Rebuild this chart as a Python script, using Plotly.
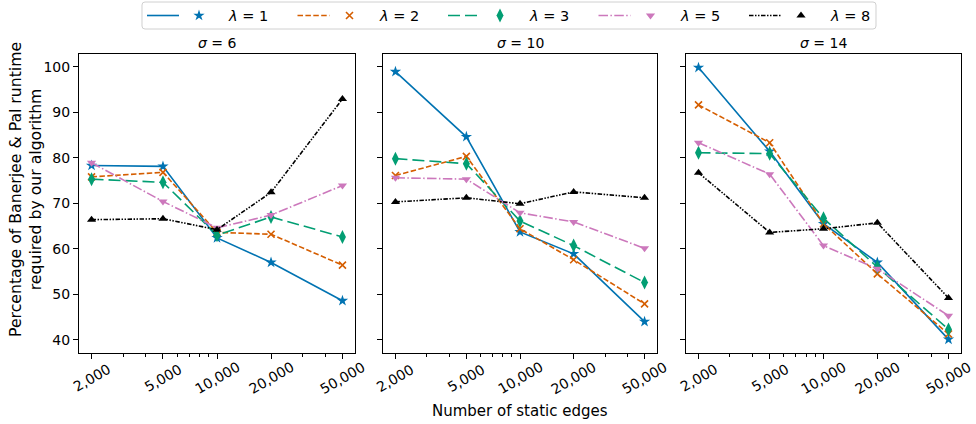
import numpy as np
import plotly.graph_objects as go

# ---- data -------------------------------------------------------------
edges = [2000, 5000, 10000, 20000, 50000]
edge_labels = ["2,000", "5,000", "10,000", "20,000", "50,000"]
minor_edges = [3000, 4000, 6000, 7000, 8000, 9000, 30000, 40000]
y_ticks = [40, 50, 60, 70, 80, 90, 100]

sigmas = [6, 10, 14]
lambdas = [1, 2, 3, 5, 8]

# sigma = 6
s6_l1 = [78.3, 78.1, 62.4, 57.0, 48.6]
s6_l2 = [75.8, 76.8, 63.6, 63.2, 56.4]
s6_l3 = [75.3, 74.6, 63.0, 67.0, 62.6]
s6_l5 = [78.9, 70.4, 64.6, 67.4, 73.9]
s6_l8 = [66.4, 66.6, 64.2, 72.4, 92.9]

# sigma = 10
s10_l1 = [98.9, 84.6, 63.7, 58.9, 44.0]
s10_l2 = [76.1, 80.3, 64.4, 57.6, 47.9]
s10_l3 = [79.8, 78.7, 66.1, 60.7, 52.6]
s10_l5 = [75.6, 75.3, 67.9, 65.9, 60.1]
s10_l8 = [70.3, 71.2, 69.9, 72.5, 71.2]

# sigma = 14
s14_l1 = [99.8, 81.4, 65.5, 57.0, 40.1]
s14_l2 = [91.6, 83.3, 65.5, 54.5, 41.3]
s14_l3 = [81.1, 80.9, 66.7, 56.0, 42.3]
s14_l5 = [83.3, 76.4, 60.7, 55.6, 45.3]
s14_l8 = [76.7, 63.6, 64.4, 65.7, 49.2]

panels = [
    [s6_l1, s6_l2, s6_l3, s6_l5, s6_l8],
    [s10_l1, s10_l2, s10_l3, s10_l5, s10_l8],
    [s14_l1, s14_l2, s14_l3, s14_l5, s14_l8],
]

# ---- styles -----------------------------------------------------------
colors = ["#0173b2", "#d55e00", "#029e73", "#cc78bc", "#000000"]
symbols = ["star", "x-thin", "diamond-tall", "triangle-down", "triangle-up"]
msizes = [8.5, 7, 10, 8, 8]
dashes = [
    "solid",
    "5.5px,2.4px",
    "12px,5px",
    "9.5px,2.4px,1.5px,2.4px",
    "4.5px,1.5px,1.5px,1.5px,1.5px,1.5px",
]
LW = 1.6
FONT = "DejaVu Sans"
EQ = "\u00a0=\u00a0"

W, H = 976, 424


def fx(px):
    return px / W


def fy(py):
    return 1 - py / H


panel_px = [(79, 355), (383, 657), (686, 961)]
top_px, bottom_px = 54, 353


def marker_style(i):
    m = dict(symbol=symbols[i], size=msizes[i], color=colors[i])
    if symbols[i].endswith("-thin"):
        m["line"] = dict(color=colors[i], width=1.6)
    else:
        m["line"] = dict(width=0)
    return m


fig = go.Figure()

# ---- series -----------------------------------------------------------
for p, series in enumerate(panels):
    ax = "" if p == 0 else str(p + 1)
    for i, vals in enumerate(series):
        fig.add_trace(go.Scatter(
            x=edges, y=vals, mode="lines+markers",
            line=dict(color=colors[i], width=LW, dash=dashes[i]),
            marker=marker_style(i),
            xaxis="x" + ax, yaxis="y" + ax,
            showlegend=False, hoverinfo="skip",
        ))

# ---- axes -------------------------------------------------------------
all_vals = np.concatenate([np.array(s) for ser in panels for s in ser])
ymin, ymax = all_vals.min(), all_vals.max()
ypad = 0.05 * (ymax - ymin)
yrange = [ymin - ypad, ymax + ypad]

lx0, lx1 = np.log10(edges[0]), np.log10(edges[-1])
xpad = 0.05 * (lx1 - lx0)
xrange = [lx0 - xpad, lx1 + xpad]

layout = dict(
    width=W, height=H,
    margin=dict(l=0, r=0, t=0, b=0),
    paper_bgcolor="white", plot_bgcolor="white",
    font=dict(family=FONT, size=14, color="black"),
    template="none",
    showlegend=False,
)

for p in range(3):
    ax = "" if p == 0 else str(p + 1)
    x0, x1 = panel_px[p]
    layout["xaxis" + ax] = dict(
        type="log", range=xrange, domain=[fx(x0), fx(x1)],
        anchor="y" + ax,
        tickvals=edges, ticks="outside", ticklen=5, tickwidth=1,
        tickcolor="black", showticklabels=False,
        minor=dict(tickvals=minor_edges, ticks="outside", ticklen=3,
                   tickwidth=0.8, tickcolor="black", showgrid=False),
        showline=True, linecolor="black", linewidth=1, mirror=True,
        showgrid=False, zeroline=False, fixedrange=True,
    )
    layout["yaxis" + ax] = dict(
        range=yrange, domain=[fy(bottom_px), fy(top_px)],
        anchor="x" + ax,
        tickvals=y_ticks, ticks="outside", ticklen=5, tickwidth=1,
        tickcolor="black", showticklabels=(p == 0),
        tickfont=dict(family=FONT, size=14, color="black"),
        showline=True, linecolor="black", linewidth=1, mirror=True,
        showgrid=False, zeroline=False, fixedrange=True,
    )

annotations = []

# rotated x tick labels, centred on their ticks
for p in range(3):
    ax = "" if p == 0 else str(p + 1)
    for v, lab in zip(edges, edge_labels):
        annotations.append(dict(
            x=np.log10(v), xref="x" + ax, y=fy(378), yref="paper",
            text=lab, textangle=-30, showarrow=False,
            xanchor="center", yanchor="middle",
            font=dict(family=FONT, size=14, color="black"),
        ))

# panel titles
for p, s in enumerate(sigmas):
    x0, x1 = panel_px[p]
    annotations.append(dict(
        x=fx((x0 + x1) / 2), xref="paper", y=fy(42.5), yref="paper",
        text="<i>σ</i>" + EQ + str(s), showarrow=False,
        xanchor="center", yanchor="middle",
        font=dict(family=FONT, size=14, color="black"),
    ))

# axis titles
annotations.append(dict(
    x=fx(520), xref="paper", y=fy(410.5), yref="paper",
    text="Number of static edges", showarrow=False,
    xanchor="center", yanchor="middle",
    font=dict(family=FONT, size=15, color="black"),
))
annotations.append(dict(
    x=fx(25), xref="paper", y=fy(190), yref="paper",
    text="Percentage of Banerjee & Pal runtime<br>required by our algorithm",
    textangle=-90, showarrow=False, align="center",
    xanchor="center", yanchor="middle",
    font=dict(family=FONT, size=15.7, color="black"),
))

# ---- legend (drawn on a hidden helper axis) ----------------------------
leg_x0, leg_x1, leg_y0, leg_y1 = 142, 876, 2, 29
layout["xaxis4"] = dict(domain=[fx(leg_x0), fx(leg_x1)], range=[0, leg_x1 - leg_x0],
                        visible=False, fixedrange=True, anchor="y4")
layout["yaxis4"] = dict(domain=[fy(leg_y1), fy(leg_y0)], range=[0, 1],
                        visible=False, fixedrange=True, anchor="x4")

pitch = 150.5
for i, lam in enumerate(lambdas):
    base = 5 + pitch * i
    fig.add_trace(go.Scatter(
        x=[base, base + 32], y=[0.5, 0.5], mode="lines",
        line=dict(color=colors[i], width=LW, dash=dashes[i]),
        xaxis="x4", yaxis="y4", showlegend=False, hoverinfo="skip",
        cliponaxis=False,
    ))
    fig.add_trace(go.Scatter(
        x=[base + 52], y=[0.5], mode="markers", marker=marker_style(i),
        xaxis="x4", yaxis="y4", showlegend=False, hoverinfo="skip",
        cliponaxis=False,
    ))
    annotations.append(dict(
        x=base + 79, xref="x4", y=0.5, yref="y4",
        text="<i>λ</i>" + EQ + str(lam), showarrow=False,
        xanchor="left", yanchor="middle",
        font=dict(family=FONT, size=14.5, color="black"),
    ))


def rounded_rect(x0, y0, x1, y1, r):
    def pt(px, py):
        return f"{fx(px):.5f},{fy(py):.5f}"
    return (f"M {pt(x0 + r, y0)} L {pt(x1 - r, y0)} Q {pt(x1, y0)} {pt(x1, y0 + r)} "
            f"L {pt(x1, y1 - r)} Q {pt(x1, y1)} {pt(x1 - r, y1)} "
            f"L {pt(x0 + r, y1)} Q {pt(x0, y1)} {pt(x0, y1 - r)} "
            f"L {pt(x0, y0 + r)} Q {pt(x0, y0)} {pt(x0 + r, y0)} Z")


layout["shapes"] = [dict(
    type="path", xref="paper", yref="paper",
    path=rounded_rect(leg_x0, leg_y0, leg_x1, leg_y1, 3),
    line=dict(color="#d0d0d0", width=1), fillcolor="white", layer="below",
)]
layout["annotations"] = annotations

fig.update_layout(**layout)
fig.write_html("out.html")
